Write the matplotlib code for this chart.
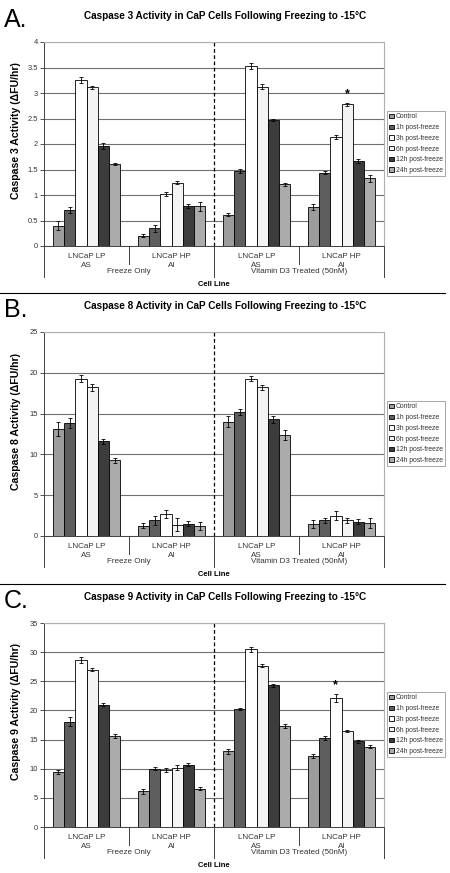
import matplotlib
matplotlib.use("Agg")
import matplotlib.pyplot as plt
import matplotlib.transforms as mtransforms
from matplotlib.lines import Line2D
import numpy as np

plt.rcParams['font.family'] = ['Liberation Sans', 'DejaVu Sans']

# groups on the category axis (inner level) and the treatments (outer level)
cell_lines = ["LNCaP LP\nAS", "LNCaP HP\nAI", "LNCaP LP\nAS", "LNCaP HP\nAI"]
treatments = ["Freeze Only", "Vitamin D3 Treated (50nM)"]
series = ["Control", "1h post-freeze", "3h post-freeze", "6h post-freeze",
          "12h post-freeze", "24h post-freeze"]
colors = ["#9c9c9c", "#5e5e5e", "#ffffff", "#f3f3f3", "#3c3c3c", "#ababab"]

# Caspase 3, one row per time point, columns follow cell_lines
casp3_mean = [[0.40, 0.20, 0.61, 0.76],
              [0.70, 0.35, 1.47, 1.44],
              [3.25, 1.02, 3.53, 2.14],
              [3.11, 1.24, 3.12, 2.78],
              [1.96, 0.78, 2.47, 1.66],
              [1.60, 0.78, 1.21, 1.33]]
casp3_err = [[0.09, 0.03, 0.03, 0.06],
             [0.06, 0.07, 0.04, 0.03],
             [0.06, 0.03, 0.05, 0.04],
             [0.03, 0.03, 0.05, 0.03],
             [0.05, 0.04, 0.02, 0.04],
             [0.02, 0.09, 0.03, 0.07]]

# Caspase 8
casp8_mean = [[13.1, 1.27, 14.0, 1.5],
              [13.8, 1.9, 15.2, 1.95],
              [19.3, 2.7, 19.3, 2.5],
              [18.2, 1.4, 18.25, 1.9],
              [11.6, 1.5, 14.3, 1.75],
              [9.3, 1.2, 12.4, 1.6]]
casp8_err = [[0.9, 0.3, 0.7, 0.5],
             [0.6, 0.6, 0.4, 0.3],
             [0.4, 0.5, 0.3, 0.6],
             [0.4, 0.8, 0.3, 0.3],
             [0.3, 0.3, 0.4, 0.3],
             [0.3, 0.5, 0.6, 0.6]]

# Caspase 9
casp9_mean = [[9.4, 6.1, 13.0, 12.2],
              [18.1, 10.0, 20.2, 15.3],
              [28.6, 9.8, 30.5, 22.2],
              [27.0, 10.2, 27.7, 16.5],
              [21.0, 10.7, 24.3, 14.7],
              [15.6, 6.6, 17.3, 13.8]]
casp9_err = [[0.3, 0.4, 0.4, 0.4],
             [0.8, 0.3, 0.2, 0.3],
             [0.5, 0.3, 0.4, 0.7],
             [0.2, 0.4, 0.2, 0.2],
             [0.2, 0.3, 0.3, 0.3],
             [0.4, 0.3, 0.3, 0.3]]

W, H = 450, 873
fig = plt.figure(figsize=(W / 100, H / 100), dpi=100)


def panel(top_px, letter, num, mean, err, ymax, ystep, star):
    ax = fig.add_axes([44 / W, 1 - (top_px + 204) / H, 340 / W, 204 / H])
    x = np.arange(len(cell_lines))
    bw = 0.133
    for j, name in enumerate(series):
        pos = x + (j - 2.5) * bw
        ax.bar(pos, mean[j], bw, color=colors[j], edgecolor="black",
               linewidth=0.6, label=name, zorder=3)
        ax.errorbar(pos, mean[j], yerr=err[j], fmt="none", ecolor="black",
                    elinewidth=0.6, capsize=1.6, capthick=0.6, zorder=4)
    if star is not None:
        g, s = star
        ax.annotate("*", (g + (s - 2.5) * bw, mean[s][g] + err[s][g]),
                    xytext=(0, 1.5), textcoords="offset points", ha="center",
                    va="bottom", fontsize=9, fontweight="bold")

    ax.set_xlim(-0.5, 3.5)
    ax.set_ylim(0, ymax)
    ticks = np.arange(0, ymax + ystep / 2, ystep)
    ax.set_yticks(ticks)
    ax.set_yticklabels([f"{v:g}" for v in ticks])
    ax.yaxis.grid(True, color="#707070", linewidth=0.8, zorder=0)
    ax.set_xticks([])
    ax.tick_params(axis="y", direction="out", length=3, width=0.6,
                   labelsize=5.4, colors="#333333", pad=1.5)
    for side in ["top", "right"]:
        ax.spines[side].set_color("#b0b0b0")
        ax.spines[side].set_linewidth(0.8)
    ax.spines["left"].set_color("#404040")
    ax.spines["bottom"].set_color("#404040")
    ax.spines["left"].set_linewidth(0.7)
    ax.spines["bottom"].set_linewidth(0.7)

    ax.axvline(1.5, color="black", linestyle=(0, (3, 2)), linewidth=0.9, zorder=2)

    # two-level category axis
    tr = mtransforms.blended_transform_factory(ax.transData, ax.transAxes)
    for xv in [-0.5, 1.5, 3.5]:
        ax.add_line(Line2D([xv, xv], [0, -0.152], transform=tr, color="#404040",
                           linewidth=0.7, clip_on=False))
    for xv in [0.5, 2.5]:
        ax.add_line(Line2D([xv, xv], [0, -0.087], transform=tr, color="#404040",
                           linewidth=0.7, clip_on=False))
    for i, lab in enumerate(cell_lines):
        ax.text(i, -0.074, lab, transform=tr, ha="center", va="center",
                fontsize=5.8, color="#333333", linespacing=1.25)
    for k, lab in enumerate(treatments):
        ax.text(0.5 + 2 * k, -0.127, lab, transform=tr, ha="center",
                va="center", fontsize=5.8, color="#333333")
    ax.text(0.5, -0.19, "Cell Line", transform=ax.transAxes, ha="center",
            va="center", fontsize=5.5, fontweight="bold")

    fig.text(16 / W, 1 - (top_px + 89) / H,
             f"Caspase {num} Activity (\u0394FU/hr)", rotation=90,
             ha="center", va="center", fontsize=7.6, fontweight="bold")
    fig.text(0.5, 1 - (top_px - 26) / H,
             f"Caspase {num} Activity in CaP Cells Following Freezing to -15\u00b0C",
             ha="center", va="center", fontsize=7.2, fontweight="bold")
    fig.text(4 / W, 1 - (top_px - 34) / H, letter, ha="left", va="top",
             fontsize=18)

    leg = ax.legend(loc="upper left", bbox_to_anchor=(1.009, 0.662),
                    fontsize=4.9, frameon=True, fancybox=False,
                    handlelength=0.6, handleheight=0.6, handletextpad=0.3,
                    labelspacing=0.55, borderpad=0.35, borderaxespad=0)
    leg.get_frame().set_edgecolor("#808080")
    leg.get_frame().set_linewidth(0.6)
    for t in leg.get_texts():
        t.set_color("#333333")
    return ax


panel(42, "A.", 3, casp3_mean, casp3_err, 4, 0.5, (3, 3))
panel(332, "B.", 8, casp8_mean, casp8_err, 25, 5, None)
panel(623, "C.", 9, casp9_mean, casp9_err, 35, 5, (3, 2))

for ypx in [293, 584]:
    fig.add_artist(Line2D([0, 445 / W], [1 - ypx / H, 1 - ypx / H],
                          color="black", linewidth=0.8))

fig.savefig("out.png", dpi=100)
